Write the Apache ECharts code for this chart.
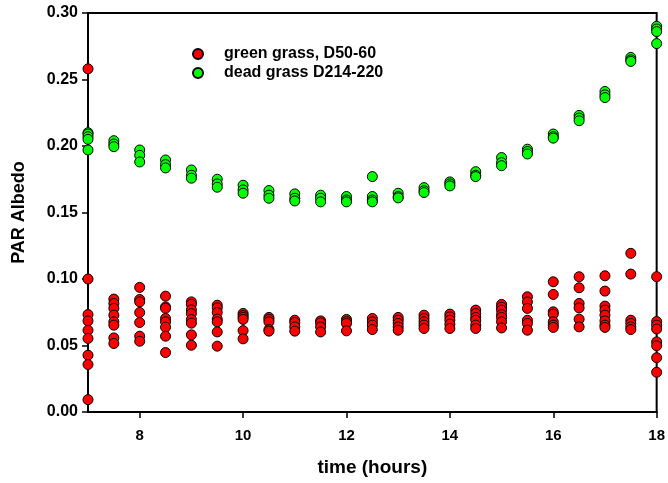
<!DOCTYPE html>
<html>
<head>
<meta charset="utf-8">
<script src="https://cdn.jsdelivr.net/npm/echarts@6/dist/echarts.min.js"></script>
<style>
html,body{margin:0;padding:0;background:#fff;}
#chart{width:668px;height:483px;}
</style>
</head>
<body>
<div id="chart"></div>
<script>
// Measurement times (hours)
var hours = [7, 7.5, 8, 8.5, 9, 9.5, 10, 10.5, 11, 11.5, 12, 12.5, 13, 13.5, 14, 14.5, 15, 15.5, 16, 16.5, 17, 17.5, 18];

// PAR albedo readings at each time, green grass D50-60
var greenGrass = [
  [0.258, 0.100, 0.0733, 0.0685, 0.0615, 0.0553, 0.0427, 0.0357, 0.0093],
  [0.0849, 0.0816, 0.0779, 0.0728, 0.0678, 0.0653, 0.0557, 0.0515],
  [0.0937, 0.0846, 0.0828, 0.0748, 0.0673, 0.057, 0.0532],
  [0.0871, 0.079, 0.078, 0.0703, 0.0678, 0.0638, 0.057, 0.0447],
  [0.0828, 0.081, 0.0768, 0.074, 0.0695, 0.0668, 0.058, 0.0502],
  [0.0803, 0.0783, 0.0748, 0.0698, 0.0678, 0.0602, 0.0495],
  [0.0741, 0.0725, 0.0711, 0.0696, 0.0612, 0.055],
  [0.0711, 0.0696, 0.0678, 0.062, 0.0608],
  [0.069, 0.0673, 0.064, 0.0608],
  [0.0685, 0.067, 0.064, 0.0602],
  [0.0696, 0.068, 0.0666, 0.061],
  [0.0703, 0.0678, 0.0653, 0.062],
  [0.0711, 0.069, 0.0666, 0.064, 0.0615],
  [0.0728, 0.0703, 0.0678, 0.0653, 0.0628],
  [0.0736, 0.0716, 0.069, 0.066, 0.0628],
  [0.0766, 0.074, 0.0711, 0.069, 0.0653, 0.0628],
  [0.0809, 0.0788, 0.0766, 0.0732, 0.0711, 0.0678, 0.0632],
  [0.0866, 0.0828, 0.0779, 0.069, 0.0666, 0.0615],
  [0.0979, 0.0884, 0.0753, 0.0736, 0.0678, 0.0653, 0.0636],
  [0.1017, 0.0934, 0.0816, 0.0783, 0.0698, 0.064],
  [0.1024, 0.0909, 0.0796, 0.0766, 0.0728, 0.0685, 0.0653, 0.0636],
  [0.1193, 0.1037, 0.069, 0.0666, 0.064, 0.062],
  [0.1017, 0.068, 0.0653, 0.0624, 0.0527, 0.0498, 0.0408, 0.0299]
];

// PAR albedo readings at each time, dead grass D214-220
var deadGrass = [
  [0.210, 0.209, 0.207, 0.205, 0.197],
  [0.204, 0.2015, 0.1995],
  [0.197, 0.193, 0.188],
  [0.1895, 0.186, 0.1835],
  [0.182, 0.178, 0.1758],
  [0.175, 0.1715, 0.169],
  [0.1705, 0.167, 0.1645],
  [0.1665, 0.163, 0.1607],
  [0.164, 0.1607, 0.1587],
  [0.163, 0.1607, 0.158],
  [0.162, 0.1594, 0.158],
  [0.177, 0.162, 0.1594, 0.158],
  [0.1645, 0.162, 0.161],
  [0.1687, 0.1664, 0.165],
  [0.173, 0.1715, 0.170],
  [0.1807, 0.178, 0.177],
  [0.1913, 0.1875, 0.1852],
  [0.1976, 0.1958, 0.194],
  [0.209, 0.207, 0.2059],
  [0.223, 0.221, 0.219],
  [0.241, 0.2385, 0.2364],
  [0.2666, 0.2648, 0.2636],
  [0.290, 0.288, 0.286, 0.277]
];

var xTickValues = [8, 10, 12, 14, 16, 18];
var seriesNames = ['green grass, D50-60', 'dead grass D214-220'];

function toPairs(groups) {
  var out = [];
  groups.forEach(function (vals, i) {
    vals.forEach(function (v) { out.push([hours[i], v]); });
  });
  return out;
}

var FONT = 'Liberation Sans, Arial, sans-serif';
var chart = echarts.init(document.getElementById('chart'), null, {renderer: 'canvas'});
chart.setOption({
  animation: false,
  backgroundColor: '#fff',
  grid: {left: 88, right: 8, top: 13, bottom: 71, show: true, borderColor: '#000', borderWidth: 2, backgroundColor: 'transparent'},
  legend: {
    orient: 'vertical', left: 192, top: 46, padding: 0, itemWidth: 10, itemHeight: 10, itemGap: 3,
    icon: 'circle',
    data: seriesNames,
    textStyle: {fontFamily: FONT, fontWeight: 'bold', fontSize: 16, color: '#000', lineHeight: 16, padding: [0, 0, 0, 16]}
  },
  xAxis: {
    type: 'value', min: 7, max: 18,
    name: 'time (hours)', nameLocation: 'middle', nameGap: 46,
    nameTextStyle: {fontFamily: FONT, fontWeight: 'bold', fontSize: 19, color: '#000'},
    axisLine: {show: true, lineStyle: {color: '#000', width: 2}},
    axisTick: {show: true, inside: false, length: 6, lineStyle: {color: '#000', width: 1.5}, customValues: xTickValues},
    axisLabel: {customValues: xTickValues, margin: 16, fontFamily: FONT, fontWeight: 'bold', fontSize: 15, color: '#000'},
    splitLine: {show: false}
  },
  yAxis: {
    type: 'value', min: 0, max: 0.3, interval: 0.05,
    name: 'PAR Albedo', nameLocation: 'middle', nameGap: 60, nameRotate: 90,
    nameTextStyle: {fontFamily: FONT, fontWeight: 'bold', fontSize: 18, color: '#000'},
    axisLine: {show: true, lineStyle: {color: '#000', width: 2}},
    axisTick: {show: true, inside: false, length: 6, lineStyle: {color: '#000', width: 1.5}},
    axisLabel: {margin: 10, fontFamily: FONT, fontWeight: 'bold', fontSize: 16, color: '#000',
      formatter: function (v) { return v.toFixed(2); }},
    splitLine: {show: false}
  },
  series: [
    {
      name: seriesNames[0], type: 'scatter', symbol: 'circle', symbolSize: 10, clip: false,
      itemStyle: {color: '#ff0000', borderColor: '#000', borderWidth: 1, opacity: 1},
      data: toPairs(greenGrass)
    },
    {
      name: seriesNames[1], type: 'scatter', symbol: 'circle', symbolSize: 10, clip: false,
      itemStyle: {color: '#00ff00', borderColor: '#000', borderWidth: 1, opacity: 1},
      data: toPairs(deadGrass)
    }
  ]
});
</script>
</body>
</html>
